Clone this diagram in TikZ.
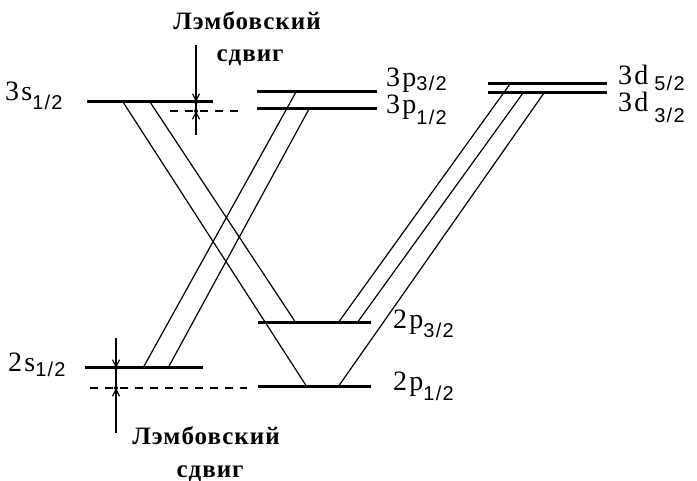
\documentclass[tikz,border=0pt]{standalone}
\usepackage{fontspec}
\setmainfont{Liberation Serif}[LetterSpace=8]
\newfontfamily\subf{Liberation Sans}[LetterSpace=6]
\newfontfamily\cyrf{Liberation Serif}[LetterSpace=4]
\usetikzlibrary{arrows.meta}
\newcommand\sbs[2]{\raisebox{-#1pt}{\subf\fontsize{20}{20}\selectfont #2}}
\begin{document}
\begin{tikzpicture}[x=1pt,y=-1pt,
  level/.style={line width=3pt},
  trans/.style={line width=1.2pt},
  dashlev/.style={line width=1.3pt, dash pattern=on 8pt off 7pt},
  lamb/.style={line width=1.2pt, -{Straight Barb[length=7pt,width=7pt]}},
  lab/.style={anchor=base west, inner sep=0pt, font=\fontsize{28}{28}\selectfont},
  cyrlab/.style={anchor=base, inner sep=0pt, font=\cyrf\bfseries\fontsize{25}{25}\selectfont}]
\useasboundingbox (0,0) rectangle (697,481);
% level ends
\coordinate (s3L) at (87,102);  \coordinate (s3R) at (213,102);
\coordinate (p33L) at (257,92); \coordinate (p33R) at (377,92);
\coordinate (p31L) at (257,109);\coordinate (p31R) at (377,109);
\coordinate (d35L) at (488,84); \coordinate (d35R) at (607,84);
\coordinate (d33L) at (488,93); \coordinate (d33R) at (607,93);
\coordinate (s2L) at (85,368);  \coordinate (s2R) at (203,368);
\coordinate (p23L) at (258,323);\coordinate (p23R) at (371,323);
\coordinate (p21L) at (258,387);\coordinate (p21R) at (371,387);
% transition points
\coordinate (t3sa) at (123,102); \coordinate (t3sb) at (150,102);
\coordinate (t2p1a) at (307,387); \coordinate (t2p3a) at (296,323);
\coordinate (t2sa) at (143,368); \coordinate (t2sb) at (168,368);
\coordinate (t3p3) at (296,92); \coordinate (t3p1) at (309,109);
\coordinate (t2p3b) at (338,323); \coordinate (t2p3c) at (357,323);
\coordinate (t2p1b) at (338,387);
\coordinate (t3d5) at (510,84); \coordinate (t3d3a) at (523,93); \coordinate (t3d3b) at (544,93);
% levels
\foreach \a/\b in {s3L/s3R,p33L/p33R,p31L/p31R,d35L/d35R,d33L/d33R,s2L/s2R,p23L/p23R,p21L/p21R}
  \draw[level] (\a) -- (\b);
% dashed unshifted levels
\coordinate (ds3L) at (170,111); \coordinate (ds3R) at (243,111);
\coordinate (ds2L) at (90,388);  \coordinate (ds2R) at (247,388);
\draw[dashlev] (ds3L) -- (ds3R);
\draw[dashlev] (ds2L) -- (ds2R);
% transitions
\draw[trans] (t3sa) -- (t2p1a);
\draw[trans] (t3sb) -- (t2p3a);
\draw[trans] (t2sa) -- (t3p3);
\draw[trans] (t2sb) -- (t3p1);
\draw[trans] (t2p3b) -- (t3d5);
\draw[trans] (t2p3c) -- (t3d3a);
\draw[trans] (t2p1b) -- (t3d3b);
% Lamb shift markers
\coordinate (la1) at (196,45); \coordinate (la2) at (196,102);
\coordinate (la3) at (196,111); \coordinate (la4) at (196,135);
\draw[lamb] (la1) -- (la2);
\draw[lamb] (la4) -- (la3);
\draw[trans] (la2) -- (la3);
\fill (la2) circle (2pt) (la3) circle (2pt);
\coordinate (lb1) at (116,338); \coordinate (lb2) at (116,368);
\coordinate (lb3) at (116,388); \coordinate (lb4) at (116,433);
\draw[lamb] (lb1) -- (lb2);
\draw[lamb] (lb4) -- (lb3);
\draw[trans] (lb2) -- (lb3);
\fill (lb2) circle (2pt) (lb3) circle (2pt);
% Lamb labels
\node[cyrlab] (ltop1) at (247,30) {Лэмбовский};
\node[cyrlab] (ltop2) at (250,62) {сдвиг};
\node[cyrlab] (lbot1) at (206,445) {Лэмбовский};
\node[cyrlab] (lbot2) at (210,477) {сдвиг};
% level labels
\node[lab] (n3s) at (5,101) {3s\sbs{9}{1/2}};
\node[lab] (n3p3) at (386,87) {3p\sbs{4}{3/2}};
\node[lab] (n3p1) at (386,114) {3p\sbs{11}{1/2}};
\node[lab] (n3d5) at (618,85) {3d\hspace{6pt}\sbs{6}{5/2}};
\node[lab] (n3d3) at (618,112) {3d\hspace{6pt}\sbs{11}{3/2}};
\node[lab] (n2p3) at (393,329) {2p\sbs{9}{3/2}};
\node[lab] (n2p1) at (393,391) {2p\sbs{10}{1/2}};
\node[lab] (n2s) at (8,372) {2s\sbs{5}{1/2}};
\end{tikzpicture}
\end{document}
